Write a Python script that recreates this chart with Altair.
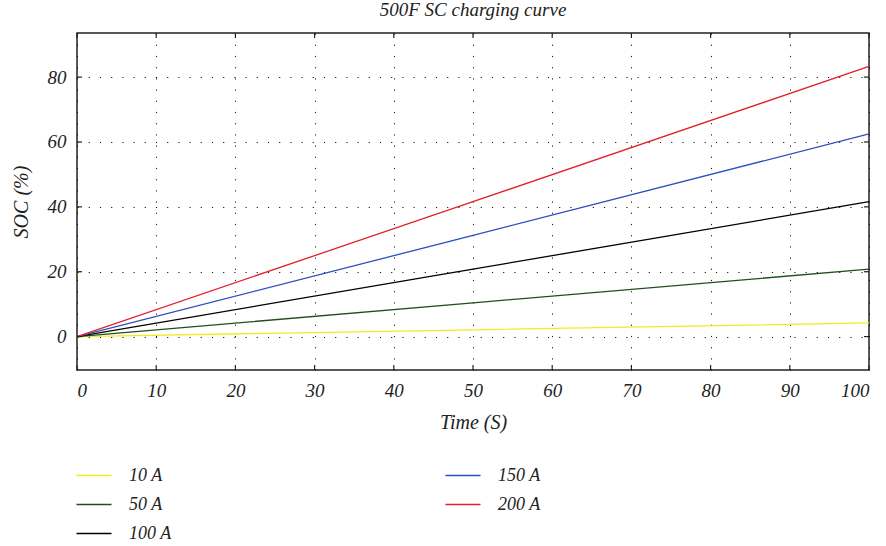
import altair as alt
import pandas as pd

# ---- data ----
series = ["10 A", "50 A", "100 A", "150 A", "200 A"]
time_s = [0, 50, 100]
soc_10 = [0, 2.1, 4.2]
soc_50 = [0, 10.4, 20.8]
soc_100 = [0, 20.8, 41.6]
soc_150 = [0, 31.2, 62.5]
soc_200 = [0, 41.6, 83.3]
colors = ["#f2ec1e", "#1f4f1f", "#000000", "#2c4fc0", "#e3202a"]
x_ticks = [0, 10, 20, 30, 40, 50, 60, 70, 80, 90, 100]
y_ticks = [0, 20, 40, 60, 80]

legend_col = [0, 0, 0, 1, 1]
legend_row = [0, 1, 2, 0, 1]

FONT = "Liberation Serif"
W, H = 792, 337

rows = []
for name, vals in zip(series, [soc_10, soc_50, soc_100, soc_150, soc_200]):
    for t, v in zip(time_s, vals):
        rows.append({"t": t, "soc": v, "series": name})
df = pd.DataFrame(rows)

xscale = alt.Scale(domain=[0, 100], nice=False, zero=False)
yscale = alt.Scale(domain=[-10.3, 93.6], nice=False, zero=False)
cscale = alt.Scale(domain=series, range=colors)

lines = alt.Chart(df).mark_line(strokeWidth=1.3).encode(
    x=alt.X("t:Q", scale=xscale,
            axis=alt.Axis(values=x_ticks, title="Time (S)", grid=True,
                          gridDash=[1.2, 10], gridColor="#000", gridOpacity=0.9,
                          ticks=False, domain=False, labelFont=FONT,
                          labelFontStyle="italic", labelFontSize=19,
                          labelColor="#222", labelPadding=11,
                          titleFont=FONT, titleFontStyle="italic",
                          titleFontSize=20, titleFontWeight="normal",
                          titleColor="#222", titlePadding=12)),
    y=alt.Y("soc:Q", scale=yscale,
            axis=alt.Axis(values=y_ticks, title="SOC (%)", grid=True,
                          gridDash=[1.2, 10], gridColor="#000", gridOpacity=0.9,
                          ticks=False, domain=False, labelFont=FONT,
                          labelFontStyle="italic", labelFontSize=19,
                          labelColor="#222", labelPadding=11,
                          titleFont=FONT, titleFontStyle="italic",
                          titleFontSize=20, titleFontWeight="normal",
                          titleColor="#222", titlePadding=16)),
    color=alt.Color("series:N", scale=cscale, legend=None),
    detail="series:N",
)

xt = pd.DataFrame({"v": x_ticks})
yt = pd.DataFrame({"v": y_ticks})
tick_style = dict(color="#222", strokeWidth=1.2)
xb = alt.Chart(xt).mark_rule(**tick_style).encode(
    x=alt.X("v:Q", scale=xscale), y=alt.value(H), y2=alt.value(H - 5))
xtop = alt.Chart(xt).mark_rule(**tick_style).encode(
    x=alt.X("v:Q", scale=xscale), y=alt.value(0), y2=alt.value(5))
yl = alt.Chart(yt).mark_rule(**tick_style).encode(
    y=alt.Y("v:Q", scale=yscale), x=alt.value(0), x2=alt.value(5))
yr = alt.Chart(yt).mark_rule(**tick_style).encode(
    y=alt.Y("v:Q", scale=yscale), x=alt.value(W), x2=alt.value(W - 5))

main = alt.layer(lines, xb, xtop, yl, yr).properties(
    width=W, height=H,
    view=alt.ViewConfig(stroke="#222", strokeWidth=1.5),
    title=alt.TitleParams("500F SC charging curve", font=FONT, fontStyle="italic",
                          fontSize=19, fontWeight="normal", color="#222",
                          anchor="middle", frame="group", offset=12),
)

leg = pd.DataFrame({"series": series, "col": legend_col, "row": legend_row})
lx = alt.X("col:O", axis=None, scale=alt.Scale(type="point", padding=0))
ly = alt.Y("row:O", axis=None, scale=alt.Scale(paddingInner=0, paddingOuter=0))
leg_sym = alt.Chart(leg).mark_point(shape="stroke", size=1225, strokeWidth=1.6,
                                    filled=False, xOffset=17, opacity=1).encode(
    x=lx, y=ly, color=alt.Color("series:N", scale=cscale, legend=None))
leg_txt = alt.Chart(leg).mark_text(align="left", baseline="middle", xOffset=52,
                                   font=FONT, fontStyle="italic", fontSize=18,
                                   color="#222").encode(
    x=lx, y=ly, text="series:N")
legend = alt.layer(leg_sym, leg_txt).properties(
    width=369, height=87, view=alt.ViewConfig(stroke=None))

chart = alt.vconcat(main, legend, spacing=28).properties(
    background="white",
    padding={"left": 10, "top": 0, "right": 5, "bottom": 5},
)

chart.save("out.html", embed_options={"renderer": "svg", "actions": False})
